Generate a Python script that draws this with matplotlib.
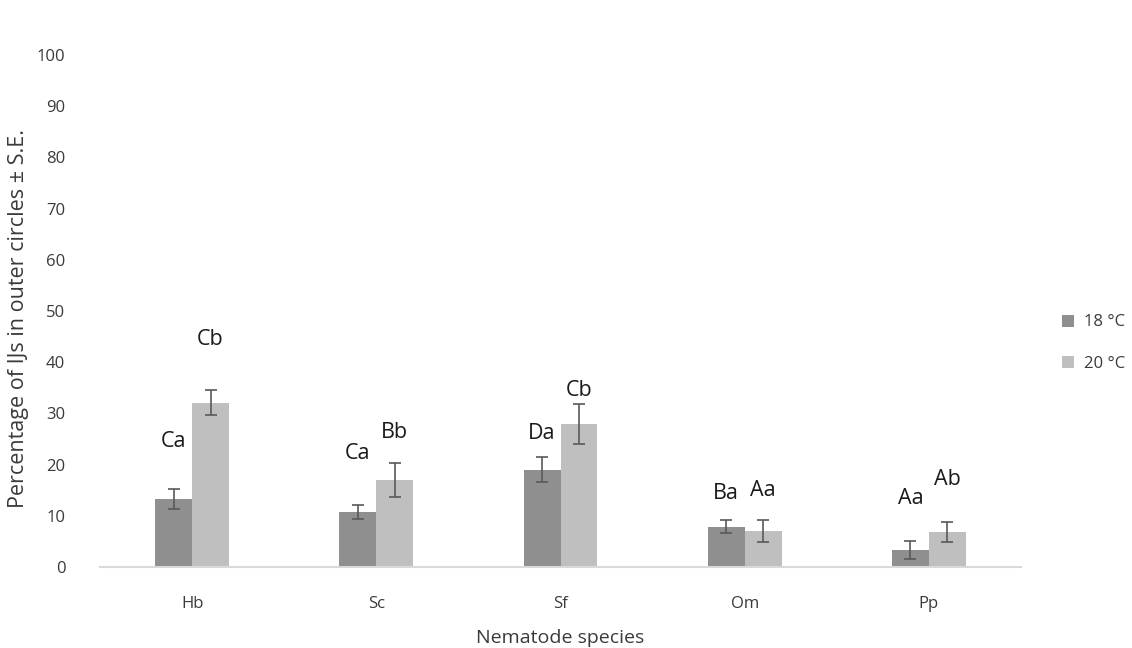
import matplotlib
matplotlib.use("Agg")
import matplotlib.pyplot as plt
import numpy as np

plt.rcParams['font.family'] = ['Open Sans', 'DejaVu Sans']

species = ["Hb", "Sc", "Sf", "Om", "Pp"]
mean_18 = [13.3, 10.7, 19.0, 7.9, 3.3]
se_18 = [2.0, 1.4, 2.4, 1.3, 1.7]
mean_20 = [32.1, 17.0, 27.9, 7.0, 6.8]
se_20 = [2.4, 3.3, 3.9, 2.2, 1.9]
letters_18 = ["Ca", "Ca", "Da", "Ba", "Aa"]
letters_20 = ["Cb", "Bb", "Cb", "Aa", "Ab"]
letter_y_18 = [24.5, 22.2, 26.0, 14.4, 13.3]
letter_y_20 = [44.5, 26.2, 34.5, 15.0, 17.0]
legend_labels = ["18 °C", "20 °C"]
yticks = list(range(0, 101, 10))

c18 = "#8f8f8f"
c20 = "#bfbfbf"
ecol = "#595959"
tcol = "#3a3a3a"

fig = plt.figure(figsize=(11.32, 6.48), dpi=100)
ax = fig.add_axes([100/1132, 81/648, 921/1132, 512/648])

x = np.arange(len(species))
w = 0.2
ax.bar(x - w/2, mean_18, w, color=c18, label=legend_labels[0], zorder=2)
ax.bar(x + w/2, mean_20, w, color=c20, label=legend_labels[1], zorder=2)
ax.errorbar(x - w/2, mean_18, yerr=se_18, fmt='none', ecolor=ecol, elinewidth=1.2,
            capsize=4, capthick=1.2, zorder=3)
ax.errorbar(x + w/2, mean_20, yerr=se_20, fmt='none', ecolor=ecol, elinewidth=1.2,
            capsize=4, capthick=1.2, zorder=3)

for i in range(len(species)):
    ax.text(x[i] - w/2, letter_y_18[i], letters_18[i], ha='center', va='center',
            fontsize=15.5, color='#1a1a1a')
    ax.text(x[i] + w/2, letter_y_20[i], letters_20[i], ha='center', va='center',
            fontsize=15.5, color='#1a1a1a')

ax.set_xlim(-0.5, len(species) - 0.5)
ax.set_ylim(0, 100)
ax.set_yticks(yticks)
ax.set_xticks(x)
ax.set_xticklabels(species)
ax.tick_params(axis='both', length=0, labelsize=12, labelcolor=tcol)
ax.tick_params(axis='y', pad=25)
ax.tick_params(axis='x', pad=21)
for s in ['top', 'right', 'left']:
    ax.spines[s].set_visible(False)
ax.spines['bottom'].set_color('#d9d9d9')
ax.spines['bottom'].set_linewidth(1.5)

ax.set_ylabel("Percentage of IJs in outer circles ± S.E.", fontsize=15.5, color=tcol)
ax.yaxis.set_label_coords(-71/921, 0.485)
ax.set_xlabel("Nematode species", fontsize=14, color=tcol)
ax.xaxis.set_label_coords(0.5, -62/512)

leg = fig.legend(loc='center left', bbox_to_anchor=(1062/1132, 1 - 343/648), frameon=False,
                 fontsize=12, handlelength=0.7, handleheight=0.7, labelspacing=1.5,
                 handletextpad=0.6, borderaxespad=0, borderpad=0)
for t in leg.get_texts():
    t.set_color(tcol)

fig.savefig("out.png", dpi=100)
